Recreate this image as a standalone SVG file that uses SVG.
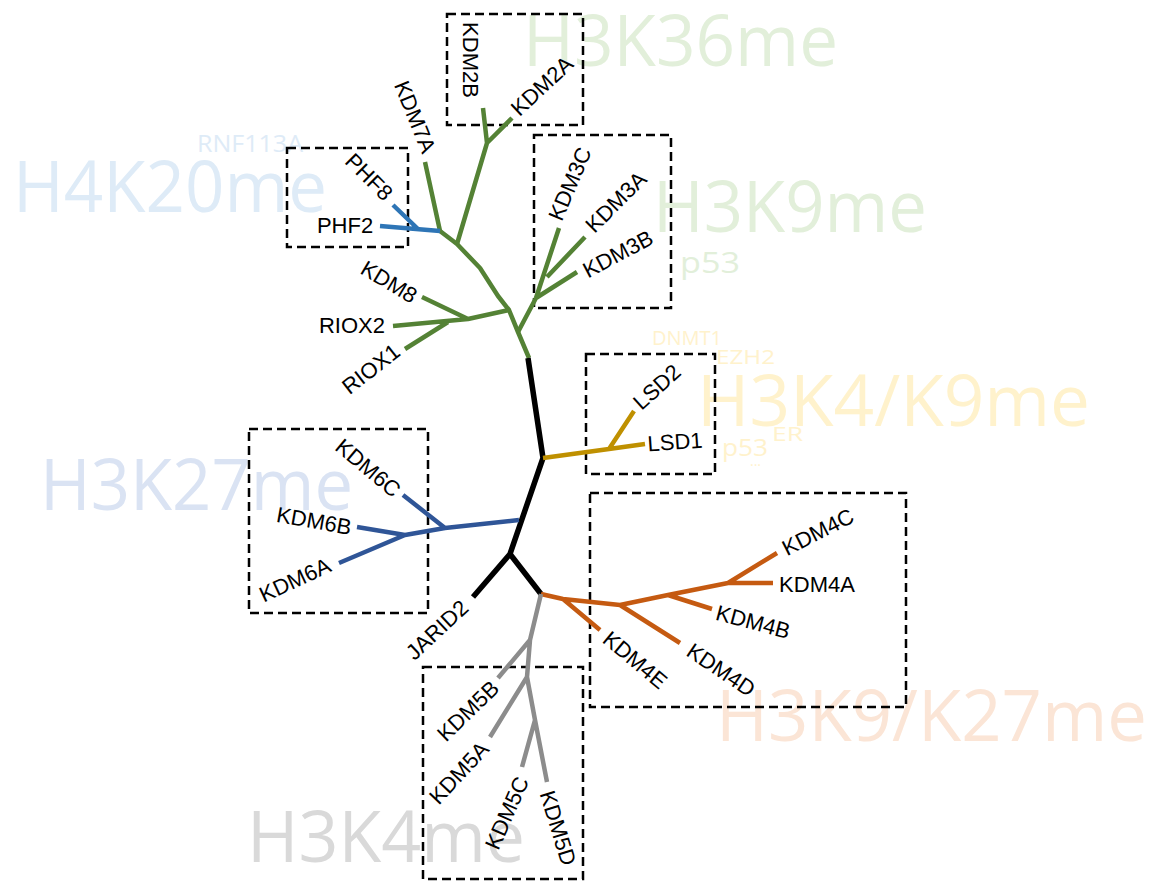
<svg xmlns="http://www.w3.org/2000/svg" width="1154" height="882" viewBox="0 0 1154 882">
<style>
.bg{font-family:"Open Sans","Noto Sans",sans-serif;font-size:72px}
.sm{font-family:"Open Sans","Noto Sans",sans-serif}
.gr{fill:#E2EFDA}.bl{fill:#DEEBF7}.bl2{fill:#DAE3F3}.ye{fill:#FFF2CC}.or{fill:#FBE5D6}.gy{fill:#D9D9D9}
.box{fill:none;stroke:#000;stroke-width:2.5;stroke-dasharray:9 5}
.lb{font-family:"Liberation Sans",Arial,sans-serif;font-size:22px;fill:#000;text-anchor:middle}
.e{fill:none;stroke-width:4.5;stroke-linejoin:round}
.k{stroke:#000;stroke-width:5.5}.g{stroke:#548235}.pb{stroke:#2E75B6}.db{stroke:#2F5597}.au{stroke:#BF9000}.o{stroke:#C55A11}.gg{stroke:#8C8C8C}
</style>
<g id="background-labels">
<text class="bg gr" x="523" y="66" textLength="315" lengthAdjust="spacingAndGlyphs">H3K36me</text>
<text class="bg bl" x="13" y="212" textLength="314" lengthAdjust="spacingAndGlyphs">H4K20me</text>
<text class="sm bl" x="197" y="152" font-size="23" textLength="106" lengthAdjust="spacingAndGlyphs">RNF113A</text>
<text class="bg gr" x="653" y="232" textLength="274" lengthAdjust="spacingAndGlyphs">H3K9me</text>
<text class="sm gr" x="680" y="273" font-size="30" textLength="60" lengthAdjust="spacingAndGlyphs">p53</text>
<text class="sm ye" x="652" y="345" font-size="20" textLength="70" lengthAdjust="spacingAndGlyphs">DNMT1</text>
<text class="sm ye" x="716" y="364" font-size="20" textLength="59" lengthAdjust="spacingAndGlyphs">EZH2</text>
<text class="bg ye" x="697" y="426" textLength="393" lengthAdjust="spacingAndGlyphs">H3K4/K9me</text>
<text class="sm ye" x="772" y="441" font-size="20" textLength="31" lengthAdjust="spacingAndGlyphs">ER</text>
<text class="sm ye" x="722" y="456" font-size="24" textLength="46" lengthAdjust="spacingAndGlyphs">p53</text>
<text class="sm ye" x="750" y="466" font-size="14">...</text>
<text class="bg bl2" x="40" y="510" textLength="313" lengthAdjust="spacingAndGlyphs">H3K27me</text>
<text class="bg or" x="716" y="741" textLength="431" lengthAdjust="spacingAndGlyphs">H3K9/K27me</text>
<text class="bg gy" x="247" y="862" textLength="278" lengthAdjust="spacingAndGlyphs">H3K4me</text>
</g>
<g id="boxes">
<rect id="box-kdm2" class="box" x="447" y="14" width="136" height="111"/>
<rect id="box-phf" class="box" x="287" y="148" width="121" height="99"/>
<rect id="box-kdm3" class="box" x="534" y="135" width="137" height="173"/>
<rect id="box-lsd" class="box" x="586" y="354" width="129" height="120"/>
<rect id="box-kdm6" class="box" x="249" y="429" width="179" height="184"/>
<rect id="box-kdm4" class="box" x="590" y="493" width="316" height="214"/>
<rect id="box-kdm5" class="box" x="423" y="667" width="160" height="212"/>
</g>
<g id="connectors">
<path class="e g" d="M529,358 L518,332 L509,310 L498,296 L480,268 L457,244 L440,231"/>
<path class="e g" d="M457,244 L487,143 M487,143 L483,108 M487,143 L512,118 M440,231 L425,162"/>
<path class="e g" d="M518,332 L536,298 L559,228 M547,277 L585,237 M536,298 L577,272"/>
<path class="e g" d="M509,310 L468,319 L393,326 M468,319 L422,297 M448,322 L405,349"/>
<path class="e pb" d="M440,231 L380,226 M418,229 L393,205"/>
<path class="e k" d="M528,358 L543,458 L510,554 L473,597 M510,554 L541,594"/>
<path class="e au" d="M543,458 L609,449 L645,444 M609,449 L634,411"/>
<path class="e db" d="M519,520 L445,528 L405,535 L357,527 M445,528 L403,495 M405,535 L339,563"/>
<path class="e o" d="M541,594 L563,599 L620,605 L668,595 L728,583 L773,583 M563,599 L600,630 M620,605 L680,643 M668,595 L712,609 M728,583 L777,553"/>
<path class="e gg" d="M541,594 L530,640 L527,677 L535,720 L547,782 M530,640 L498,678 M527,677 L490,737 M535,720 L522,767"/>
</g>
<g id="node-KDM2B"><text class="lb" transform="translate(470,60) rotate(90)" y="7.5">KDM2B</text></g>
<g id="node-KDM2A"><text class="lb" transform="translate(542,86) rotate(-43)" y="7.5">KDM2A</text></g>
<g id="node-KDM7A"><text class="lb" transform="translate(415,117) rotate(68)" y="7.5">KDM7A</text></g>
<g id="node-PHF8"><text class="lb" transform="translate(369,177) rotate(45)" y="7.5">PHF8</text></g>
<g id="node-PHF2"><text class="lb" transform="translate(345,225)" y="7.5">PHF2</text></g>
<g id="node-KDM8"><text class="lb" transform="translate(389,282) rotate(31)" y="7.5">KDM8</text></g>
<g id="node-RIOX2"><text class="lb" transform="translate(352,325)" y="7.5">RIOX2</text></g>
<g id="node-RIOX1"><text class="lb" transform="translate(371,369) rotate(-38)" y="7.5">RIOX1</text></g>
<g id="node-KDM3C"><text class="lb" transform="translate(570,184) rotate(-67)" y="7.5">KDM3C</text></g>
<g id="node-KDM3A"><text class="lb" transform="translate(616,202) rotate(-45)" y="7.5">KDM3A</text></g>
<g id="node-KDM3B"><text class="lb" transform="translate(618,254) rotate(-28)" y="7.5">KDM3B</text></g>
<g id="node-LSD2"><text class="lb" transform="translate(657,387) rotate(-42)" y="7.5">LSD2</text></g>
<g id="node-LSD1"><text class="lb" transform="translate(675,442) rotate(-4)" y="7.5">LSD1</text></g>
<g id="node-KDM6C"><text class="lb" transform="translate(368,468) rotate(40)" y="7.5">KDM6C</text></g>
<g id="node-KDM6B"><text class="lb" transform="translate(314,521) rotate(10)" y="7.5">KDM6B</text></g>
<g id="node-KDM6A"><text class="lb" transform="translate(295,580) rotate(-25)" y="7.5">KDM6A</text></g>
<g id="node-JARID2"><text class="lb" transform="translate(437,630) rotate(-43)" y="7.5">JARID2</text></g>
<g id="node-KDM4C"><text class="lb" transform="translate(818,532) rotate(-27)" y="7.5">KDM4C</text></g>
<g id="node-KDM4A"><text class="lb" transform="translate(817,584)" y="7.5">KDM4A</text></g>
<g id="node-KDM4B"><text class="lb" transform="translate(753,622) rotate(15)" y="7.5">KDM4B</text></g>
<g id="node-KDM4D"><text class="lb" transform="translate(721,670) rotate(34)" y="7.5">KDM4D</text></g>
<g id="node-KDM4E"><text class="lb" transform="translate(635,660) rotate(40)" y="7.5">KDM4E</text></g>
<g id="node-KDM5B"><text class="lb" transform="translate(468,711) rotate(-44)" y="7.5">KDM5B</text></g>
<g id="node-KDM5A"><text class="lb" transform="translate(459,773) rotate(-47)" y="7.5">KDM5A</text></g>
<g id="node-KDM5C"><text class="lb" transform="translate(507,813) rotate(-66)" y="7.5">KDM5C</text></g>
<g id="node-KDM5D"><text class="lb" transform="translate(558,828) rotate(73)" y="7.5">KDM5D</text></g>
</svg>
